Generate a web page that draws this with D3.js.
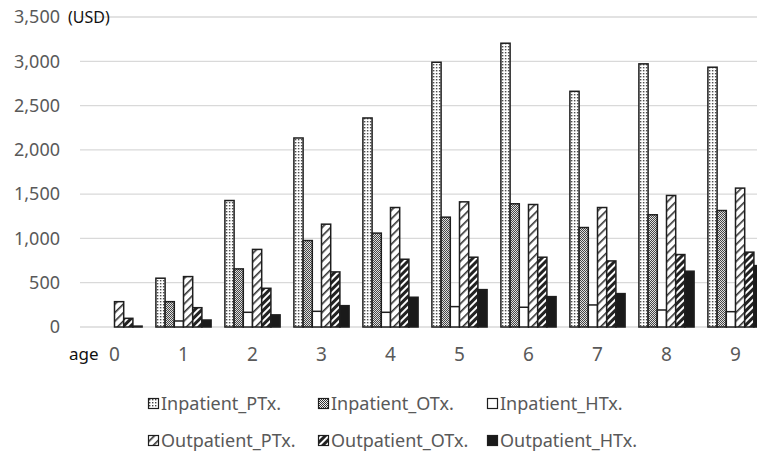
<!DOCTYPE html>
<html>
<head>
<meta charset="utf-8">
<script src="https://cdn.jsdelivr.net/npm/d3@7"></script>
<style>
  body { margin: 0; background: #fff; }
  text { font-family: "Noto Sans", "Open Sans", sans-serif; }
</style>
</head>
<body>
<script>
// values
const ages = ["0", "1", "2", "3", "4", "5", "6", "7", "8", "9"];
const seriesNames = ["Inpatient_PTx.", "Inpatient_OTx.", "Inpatient_HTx.",
                     "Outpatient_PTx.", "Outpatient_OTx.", "Outpatient_HTx."];
const inpatientPTx  = [0, 551, 1428, 2134, 2360, 2989, 3204, 2661, 2971, 2933];
const inpatientOTx  = [0, 286, 656, 976, 1060, 1240, 1391, 1123, 1267, 1315];
const inpatientHTx  = [0, 68, 166, 177, 166, 230, 223, 249, 192, 173];
const outpatientPTx = [286, 569, 876, 1161, 1349, 1413, 1383, 1349, 1485, 1568];
const outpatientOTx = [98, 218, 437, 622, 765, 788, 788, 746, 818, 845];
const outpatientHTx = [10, 79, 137, 241, 336, 422, 343, 377, 630, 693];
const yTicks = [0, 500, 1000, 1500, 2000, 2500, 3000, 3500];

const seriesValues = [inpatientPTx, inpatientOTx, inpatientHTx,
                      outpatientPTx, outpatientOTx, outpatientHTx];

var width = 757, height = 453;
var plot = {left: 80, right: 770, top: 17, bottom: 327};

const svg = d3.select("body")
    .append("svg")
    .attr("width", width)
    .attr("height", height)
    .attr("viewBox", [0, 0, width, height]);

// fill patterns
const defs = svg.append("defs");
const patIds = ["pInPT", "pInOT", "pInHT", "pOutPT", "pOutOT", "pOutHT"];

var p = defs.append("pattern").attr("id", patIds[0])
    .attr("patternUnits", "userSpaceOnUse").attr("width", 3).attr("height", 3);
p.append("rect").attr("width", 3).attr("height", 3).attr("fill", "#fff");
p.append("rect").attr("x", 1).attr("y", 1).attr("width", 1.4).attr("height", 1.4).attr("fill", "#444");

p = defs.append("pattern").attr("id", patIds[1])
    .attr("patternUnits", "userSpaceOnUse").attr("width", 2).attr("height", 2);
p.append("rect").attr("width", 2).attr("height", 2).attr("fill", "#f2f2f2");
p.append("rect").attr("width", 1).attr("height", 1).attr("fill", "#333");
p.append("rect").attr("x", 1).attr("y", 1).attr("width", 1).attr("height", 1).attr("fill", "#333");

p = defs.append("pattern").attr("id", patIds[2])
    .attr("patternUnits", "userSpaceOnUse").attr("width", 4).attr("height", 4);
p.append("rect").attr("width", 4).attr("height", 4).attr("fill", "#fff");

p = defs.append("pattern").attr("id", patIds[3])
    .attr("patternUnits", "userSpaceOnUse").attr("width", 6).attr("height", 6)
    .attr("patternTransform", "rotate(45)");
p.append("rect").attr("width", 6).attr("height", 6).attr("fill", "#fff");
p.append("rect").attr("width", 1.6).attr("height", 6).attr("fill", "#333");

p = defs.append("pattern").attr("id", patIds[4])
    .attr("patternUnits", "userSpaceOnUse").attr("width", 5).attr("height", 5)
    .attr("patternTransform", "rotate(45)");
p.append("rect").attr("width", 5).attr("height", 5).attr("fill", "#fff");
p.append("rect").attr("width", 3).attr("height", 5).attr("fill", "#222");

p = defs.append("pattern").attr("id", patIds[5])
    .attr("patternUnits", "userSpaceOnUse").attr("width", 4).attr("height", 4);
p.append("rect").attr("width", 4).attr("height", 4).attr("fill", "#1a1a1a");

// scales
var xscale = d3.scaleBand()
    .domain(ages)
    .range([plot.left, plot.right])
    .paddingInner(0.2)
    .paddingOuter(0.1);

var xinner = d3.scaleBand()
    .domain(seriesNames)
    .range([0, xscale.bandwidth()]);

var yscale = d3.scaleLinear()
    .domain([0, 3500])
    .range([plot.bottom, plot.top]);

// gridlines
svg.append("g")
    .selectAll("line")
    .data(yTicks)
    .join("line")
    .attr("x1", plot.left)
    .attr("x2", width)
    .attr("y1", d => yscale(d))
    .attr("y2", d => yscale(d))
    .attr("stroke", "#d9d9d9")
    .attr("stroke-width", 1.3);

// y-axis
svg.append("g")
    .attr("transform", `translate(${plot.left},0)`)
    .call(d3.axisLeft(yscale).tickValues(yTicks).tickFormat(d3.format(",")).tickSize(0).tickPadding(20))
    .call(g => g.select(".domain").remove())
    .call(g => g.selectAll("text")
        .attr("fill", "#595959")
        .style("font-size", "18px")
        .style("font-family", "'Noto Sans', sans-serif"));

// x-axis
svg.append("g")
    .attr("transform", `translate(0,${plot.bottom})`)
    .call(d3.axisBottom(xscale).tickSize(0).tickPadding(21))
    .call(g => g.select(".domain").remove())
    .call(g => g.selectAll("text")
        .attr("fill", "#595959")
        .style("font-size", "19px")
        .style("font-family", "'Noto Sans', sans-serif"));

// bars
const groups = svg.append("g")
    .selectAll("g")
    .data(ages)
    .join("g")
    .attr("transform", d => `translate(${xscale(d)},0)`);

groups.selectAll("rect")
    .data((d, i) => seriesNames.map((s, j) => ({s: s, j: j, v: seriesValues[j][i]})))
    .join("rect")
    .filter(d => d.v > 0)
    .attr("x", d => xinner(d.s))
    .attr("y", d => yscale(d.v))
    .attr("width", xinner.bandwidth())
    .attr("height", d => yscale(0) - yscale(d.v))
    .attr("fill", d => `url(#${patIds[d.j]})`)
    .attr("stroke", "#1e1e1e")
    .attr("stroke-width", 1.5);

// labels
svg.append("text")
    .attr("x", 68)
    .attr("y", 23)
    .attr("fill", "#111")
    .style("font-size", "16px")
    .text("(USD)");

svg.append("text")
    .attr("x", 69)
    .attr("y", 360)
    .attr("fill", "#111")
    .style("font-size", "17px")
    .text("age");

// legend
var legendCols = [148, 318, 487];
var legendRows = [404, 441];

const legend = svg.append("g")
    .selectAll("g")
    .data(seriesNames)
    .join("g")
    .attr("transform", (d, i) => `translate(${legendCols[i % 3]},${legendRows[Math.floor(i / 3)]})`);

legend.append("rect")
    .attr("x", 0.5)
    .attr("y", -5.5)
    .attr("width", 10)
    .attr("height", 10)
    .attr("fill", (d, i) => `url(#${patIds[i]})`)
    .attr("stroke", "#1e1e1e")
    .attr("stroke-width", 1.2);

legend.append("text")
    .attr("x", 13)
    .attr("y", 0)
    .attr("dy", "0.35em")
    .attr("fill", "#595959")
    .style("font-size", "18px")
    .text(d => d);
</script>
</body>
</html>
